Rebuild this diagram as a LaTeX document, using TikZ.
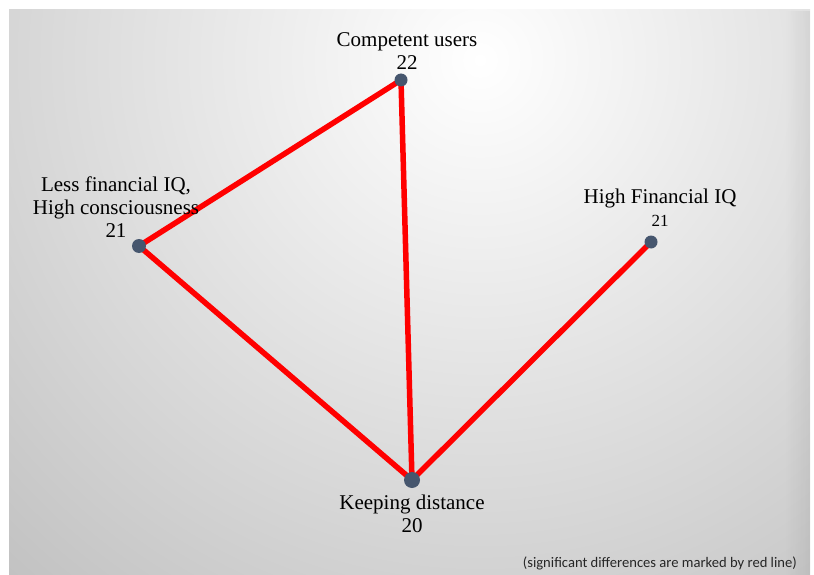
\documentclass[tikz,border=0pt]{standalone}
\usepackage{fontspec}
\setmainfont{Liberation Serif}
\newfontfamily\poznfont{Carlito}
\usetikzlibrary{positioning,backgrounds,fadings}
\definecolor{bodmodra}{RGB}{70,86,110}
\definecolor{ramecseda}{RGB}{192,192,192}
\tikzset{
  bod/.style={circle,fill=bodmodra,inner sep=0pt,minimum size=13pt},
  bodV/.style={bod,minimum size=16pt},
  hrana/.style={red,line width=5.5pt},
  popis/.style={align=center,inner sep=0pt,text=black,font=\fontsize{21}{23}\selectfont},
  pozn/.style={inner sep=0pt,text=black!85,font=\poznfont\fontsize{14.6}{17}\selectfont},
}
\pgfdeclarelayer{panel}
\pgfsetlayers{panel,background,main}

\begin{document}
\begin{tikzpicture}[x=1pt,y=-1pt]
  \useasboundingbox (0,0) rectangle (814,575);
  \begin{pgfonlayer}{panel}
    \fill[ramecseda] (9,10) rectangle (810,575);
    \begin{scope}
      \clip (9,10) rectangle (810,575);
      \shade[inner color=white,outer color=ramecseda] (480,60) circle[radius=720pt];
      \fill[black,fill opacity=0.06,path fading=west] (785,10) rectangle (810,575);
    \end{scope}
  \end{pgfonlayer}
  \node[bod] (comp) at (401,80) {}; \node[bod,minimum size=14pt] (less) at (139,246) {};
  \node[bod] (high) at (651,242) {}; \node[bodV] (keep) at (412,480) {};
  \node[popis,above=3.5pt of comp,xshift=6pt] (compT) {Competent users\\22};
  \node[popis,above=1pt of less,xshift=-23pt] (lessT) {Less financial IQ,\\High consciousness\\21};
  \node[popis,above=8.5pt of high,xshift=9pt] (highT) {High Financial IQ\\{\fontsize{17}{20}\selectfont 21}};
  \node[popis,below=7pt of keep] (keepT) {Keeping distance\\20};
  \node[pozn,anchor=base east] (pozn) at (797,567) {(significant differences are marked by red line)};
  \begin{scope}[on background layer]
    \draw[hrana] (comp.center)--(less.center); \draw[hrana] (comp.center)--(keep.center);
    \draw[hrana] (less.center)--(keep.center); \draw[hrana] (high.center)--(keep.center);
  \end{scope}
\end{tikzpicture}
\end{document}
